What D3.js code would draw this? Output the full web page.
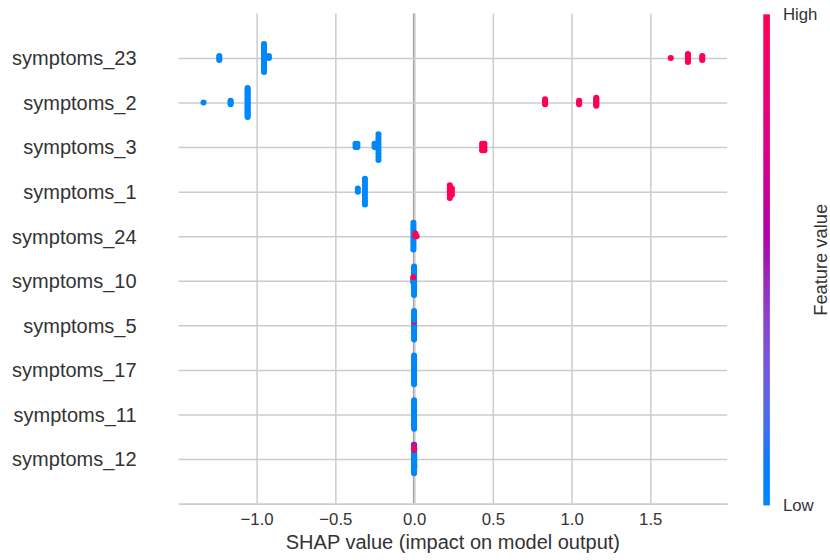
<!DOCTYPE html>
<html>
<head>
<meta charset="utf-8">
<script src="https://cdn.jsdelivr.net/npm/d3@7"></script>
<style>
  html, body { margin: 0; padding: 0; background: #ffffff; }
  svg { display: block; font-family: "Liberation Sans", Arial, Helvetica, sans-serif; }
</style>
</head>
<body>
<svg id="chart" width="830" height="560"></svg>
<script>
// Features ordered by mean |SHAP|, most important first
const features = [
  "symptoms_23", "symptoms_2", "symptoms_3", "symptoms_1", "symptoms_24",
  "symptoms_10", "symptoms_5", "symptoms_17", "symptoms_11", "symptoms_12"
];

// Sample groups per feature: [SHAP value, number of samples, feature value (0 = low, 1 = high)]
const symptoms23 = [[-1.237, 3, 0], [-0.953, 15, 0], [-0.922, 2, 0], [1.630, 1, 1], [1.739, 5, 1], [1.830, 3, 1]];
const symptoms2  = [[-1.337, 1, 0], [-1.165, 3, 0], [-1.057, 19, 0], [0.832, 4, 1], [1.048, 3, 1], [1.157, 6, 1]];
const symptoms3  = [[-0.372, 2, 0], [-0.360, 2, 0], [-0.251, 2, 0], [-0.226, 9, 0], [0.432, 3, 1], [0.447, 3, 1]];
const symptoms1  = [[-0.357, 2, 0], [-0.312, 9, 0], [0.227, 5, 1], [0.240, 3, 1]];
const symptoms24 = [[-0.004, 11, 0], [0.008, 2, 1], [0.016, 1, 1]];
const symptoms10 = [[0, 17, 0], [-0.005, 3, 0], [-0.005, 1, 1]];
const symptoms5  = [[0, 3, 0], [0, 1, 1], [0, 13, 0]];
const symptoms17 = [[0, 17, 0]];
const symptoms11 = [[0, 17, 0]];
const symptoms12 = [[0, 17, 0], [-0.0004, 15, 0], [-0.0004, 1, 0.5],
                    [0.0004, 9, 0], [0.0004, 1, 0.5], [0.0004, 1, 0], [0.0004, 1, 1]];

const featureGroups = [symptoms23, symptoms2, symptoms3, symptoms1, symptoms24,
                       symptoms10, symptoms5, symptoms17, symptoms11, symptoms12];

const xTicks = [-1.0, -0.5, 0.0, 0.5, 1.0, 1.5];
const xLabel = "SHAP value (impact on model output)";
const colorbarTitle = "Feature value";
const colorbarLow = "Low";
const colorbarHigh = "High";

// ---- layout ----
const W = 830, H = 560;
const plotLeft = 178.6, plotRight = 727.2, plotTop = 13.4, plotBottom = 503.6;
const dotRadius = 3.05;
const textColor = "#333333";
const gridColor = "#cccccc";

// Red-blue colour map interpolated in LCH space
function redBlue(t) {
  const l = t < 0.5 ? 54 + (40 - 54) * (t / 0.5) : 40 + (54 - 40) * ((t - 0.5) / 0.5);
  const c = 70 + 20 * t;
  const hRad = 4.6588 + t * (0.35470565 + 2 * Math.PI - 4.6588);
  return d3.hcl(hRad * 180 / Math.PI, c, l).formatHex();
}

// Expand groups to individual samples
const rows = featureGroups.map((groups, i) => {
  const pts = [];
  groups.forEach(([v, n, fv]) => { for (let k = 0; k < n; k++) pts.push({ shap: v, fv }); });
  return { name: features[i], pos: features.length - 1 - i, pts };
});

// Beeswarm offsets: quantise along x, stack alternately up and down in each bin
function swarm(pts, rowHeight) {
  const N = pts.length, nbins = 100;
  const shaps = pts.map(p => p.shap);
  const mn = d3.min(shaps), mx = d3.max(shaps);
  const quant = shaps.map(v => Math.round(nbins * (v - mn) / (mx - mn + 1e-8)));
  const inds = d3.range(N).sort((a, b) => (quant[a] - quant[b]) || (a - b));
  const ys = new Array(N).fill(0);
  let layer = 0, last = -1;
  for (const ind of inds) {
    if (quant[ind] !== last) layer = 0;
    ys[ind] = Math.ceil(layer / 2) * ((layer % 2) * 2 - 1);
    layer++;
    last = quant[ind];
  }
  const m = d3.max(ys, y => y + 1);
  ys.forEach((y, i) => { pts[i].dy = y * 0.9 * (rowHeight / m); });
}
rows.forEach(r => swarm(r.pts, 0.4));

// ---- scales ----
const allShap = rows.flatMap(r => r.pts.map(p => p.shap));
const [xmin, xmax] = d3.extent(allShap);
const pad = (xmax - xmin) * 0.05;
const x = d3.scaleLinear().domain([xmin - pad, xmax + pad]).range([plotLeft, plotRight]);
const y = d3.scaleLinear().domain([-1, features.length]).range([plotBottom, plotTop]);

const svg = d3.select("#chart");
svg.append("rect").attr("width", W).attr("height", H).attr("fill", "#ffffff");

// zero reference line (beneath the grid)
svg.append("line")
  .attr("x1", x(0)).attr("x2", x(0))
  .attr("y1", plotTop).attr("y2", plotBottom)
  .attr("stroke", "#999999").attr("stroke-width", 2.3);

// x axis with vertical grid lines
const xAxis = svg.append("g")
  .attr("transform", `translate(0,${plotBottom})`)
  .call(d3.axisBottom(x).tickValues(xTicks).tickFormat(d3.format(".1f"))
    .tickSize(-(plotBottom - plotTop)).tickSizeOuter(0).tickPadding(9));
xAxis.select(".domain").attr("stroke", gridColor).attr("stroke-width", 1.9);
xAxis.selectAll(".tick line").attr("stroke", gridColor).attr("stroke-width", 1.5);
xAxis.selectAll(".tick text").attr("fill", textColor).attr("font-size", 16.8);

// y axis: feature names with horizontal grid lines
const yAxis = svg.append("g")
  .attr("transform", `translate(${plotLeft},0)`)
  .call(d3.axisLeft(y).tickValues(rows.map(r => r.pos))
    .tickFormat(p => features[features.length - 1 - p])
    .tickSize(-(plotRight - plotLeft)).tickPadding(42));
yAxis.select(".domain").remove();
yAxis.selectAll(".tick line").attr("stroke", gridColor).attr("stroke-width", 1.5);
yAxis.selectAll(".tick text").attr("fill", textColor).attr("font-size", 20).attr("dy", "0.34em");

// sample dots
const dots = svg.append("g");
rows.slice().reverse().forEach(r => {
  dots.selectAll(null).data(r.pts).enter().append("circle")
    .attr("cx", d => x(d.shap))
    .attr("cy", d => y(r.pos + d.dy))
    .attr("r", dotRadius)
    .attr("fill", d => redBlue(d.fv));
});

// x label
svg.append("text")
  .attr("x", (plotLeft + plotRight) / 2).attr("y", 549)
  .attr("text-anchor", "middle").attr("font-size", 20).attr("fill", textColor)
  .text(xLabel);

// colour bar
const cbX = 763.3, cbW = 6.6, cbTop = 14.3, cbBottom = 505.4;
const defs = svg.append("defs");
const grad = defs.append("linearGradient").attr("id", "cbGrad")
  .attr("x1", 0).attr("y1", 1).attr("x2", 0).attr("y2", 0);
d3.range(0, 1.0001, 0.05).forEach(t => {
  grad.append("stop").attr("offset", t).attr("stop-color", redBlue(t));
});
const cScale = d3.scaleLinear().domain([0, 1]).range([cbBottom, cbTop]);
svg.append("rect")
  .attr("x", cbX).attr("y", cScale(1)).attr("width", cbW).attr("height", cScale(0) - cScale(1))
  .attr("fill", "url(#cbGrad)");
const cbAxis = svg.append("g")
  .attr("transform", `translate(${cbX + cbW},0)`)
  .call(d3.axisRight(cScale).tickValues([0, 1]).tickFormat(d => d ? colorbarHigh : colorbarLow)
    .tickSize(0).tickPadding(13));
cbAxis.select(".domain").remove();
cbAxis.selectAll(".tick text").attr("fill", textColor).attr("font-size", 16.8);

svg.append("text")
  .attr("transform", `translate(827,${(cbTop + cbBottom) / 2}) rotate(-90)`)
  .attr("text-anchor", "middle").attr("font-size", 18.3).attr("fill", textColor)
  .text(colorbarTitle);
</script>
</body>
</html>
